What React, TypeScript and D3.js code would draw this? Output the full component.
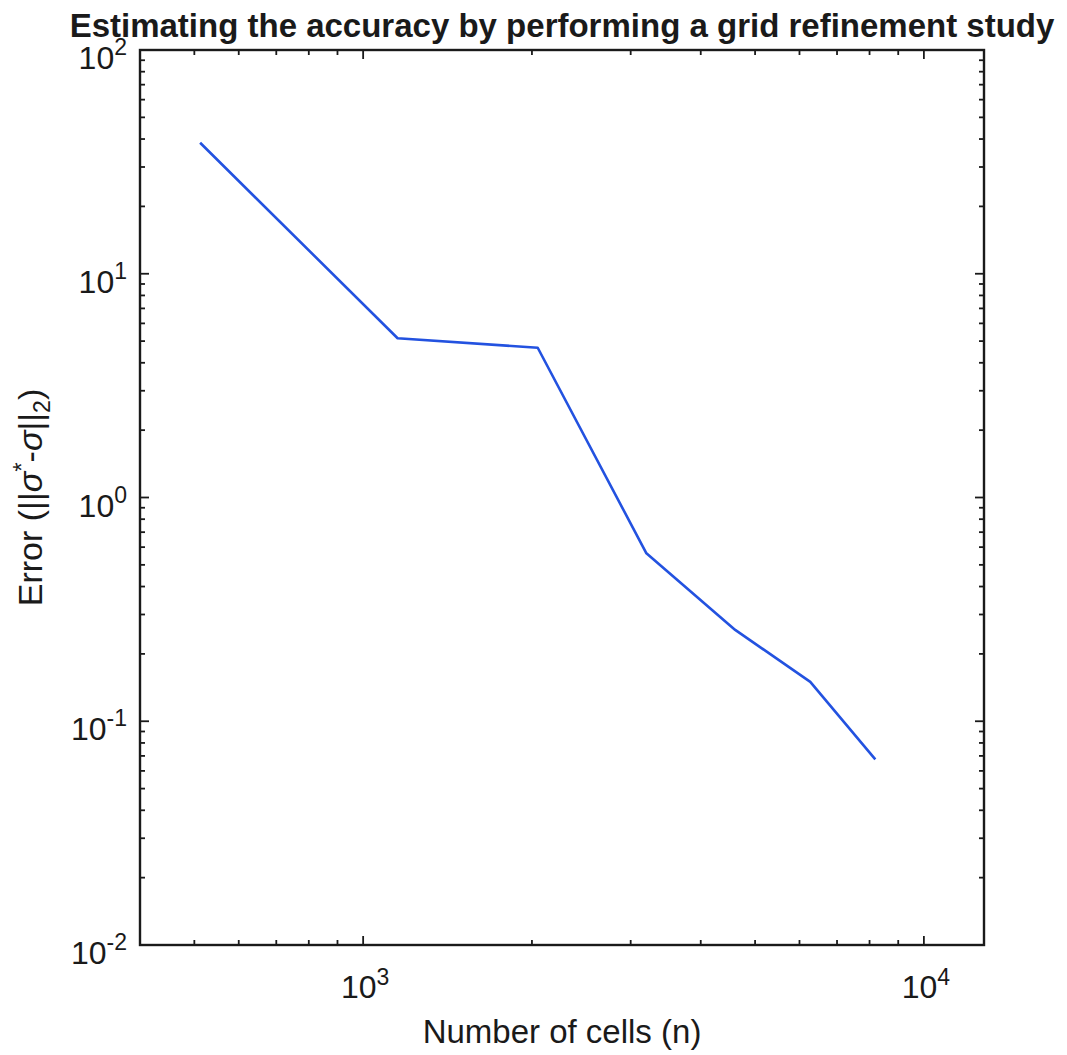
import React, { useEffect, useRef } from "react";
import * as d3 from "d3";

// Grid refinement study: number of cells vs. error norm
const cells = [512, 1152, 2048, 3200, 4608, 6272, 8192];
const errors = [38.5, 5.15, 4.67, 0.563, 0.256, 0.15, 0.0676];

const xMajorTicks = [1e3, 1e4];
const yMajorTicks = [1e-2, 1e-1, 1e0, 1e1, 1e2];
const xExponents = ["3", "4"];
const yExponents = ["-2", "-1", "0", "1", "2"];

const titleText = "Estimating the accuracy by performing a grid refinement study";
const xLabelText = "Number of cells (n)";

const W = 1067;
const H = 1055;
const plot = { left: 140, top: 50, right: 984, bottom: 945 };
const FONT = "'Liberation Sans', Arial, Helvetica, sans-serif";

export default function App() {
  const ref = useRef<SVGSVGElement | null>(null);

  useEffect(() => {
    const svg = d3.select(ref.current);
    svg.selectAll("*").remove();

    const x = d3.scaleLog().domain([400, 12800]).range([plot.left, plot.right]);
    const y = d3.scaleLog().domain([1e-2, 1e2]).range([plot.bottom, plot.top]);

    svg.append("rect").attr("width", W).attr("height", H).attr("fill", "#fff");

    // minor ticks on the log axes
    const xMinor: number[] = [];
    [100, 1000].forEach((dec) => {
      for (let m = 2; m <= 9; m++) {
        const v = m * dec;
        if (v > 400 && v < 12800 && !xMajorTicks.includes(v)) xMinor.push(v);
      }
    });
    const yMinor: number[] = [];
    [1e-2, 1e-1, 1e0, 1e1].forEach((dec) => {
      for (let m = 2; m <= 9; m++) yMinor.push(m * dec);
    });

    const g = svg.append("g").attr("stroke", "#1a1a1a").attr("stroke-width", 1.8);
    const major = 9;
    const minor = 5;

    xMinor.forEach((v) => {
      const px = x(v);
      g.append("line").attr("x1", px).attr("x2", px).attr("y1", plot.bottom).attr("y2", plot.bottom - minor);
      g.append("line").attr("x1", px).attr("x2", px).attr("y1", plot.top).attr("y2", plot.top + minor);
    });
    xMajorTicks.forEach((v) => {
      const px = x(v);
      g.append("line").attr("x1", px).attr("x2", px).attr("y1", plot.bottom).attr("y2", plot.bottom - major);
      g.append("line").attr("x1", px).attr("x2", px).attr("y1", plot.top).attr("y2", plot.top + major);
    });
    yMinor.forEach((v) => {
      const py = y(v);
      g.append("line").attr("x1", plot.left).attr("x2", plot.left + minor).attr("y1", py).attr("y2", py);
      g.append("line").attr("x1", plot.right).attr("x2", plot.right - minor).attr("y1", py).attr("y2", py);
    });
    yMajorTicks.forEach((v) => {
      const py = y(v);
      g.append("line").attr("x1", plot.left).attr("x2", plot.left + major).attr("y1", py).attr("y2", py);
      g.append("line").attr("x1", plot.right).attr("x2", plot.right - major).attr("y1", py).attr("y2", py);
    });

    // axes box
    svg
      .append("rect")
      .attr("x", plot.left)
      .attr("y", plot.top)
      .attr("width", plot.right - plot.left)
      .attr("height", plot.bottom - plot.top)
      .attr("fill", "none")
      .attr("stroke", "#1a1a1a")
      .attr("stroke-width", 2.4);

    // data line
    const line = d3
      .line<number>()
      .x((_, i) => x(cells[i]))
      .y((d) => y(d));
    svg
      .append("path")
      .attr("d", line(errors))
      .attr("fill", "none")
      .attr("stroke", "#2352e0")
      .attr("stroke-width", 2.6)
      .attr("stroke-linejoin", "round");

    // tick labels
    const txt = svg.append("g").attr("font-family", FONT).attr("fill", "#1a1a1a");
    xMajorTicks.forEach((v, i) => {
      const t = txt
        .append("text")
        .attr("x", x(v) + 2)
        .attr("y", plot.bottom + 53)
        .attr("text-anchor", "middle")
        .attr("font-size", 32);
      t.append("tspan").text("10");
      t.append("tspan").attr("dy", -13).attr("font-size", 23).text(xExponents[i]);
    });
    yMajorTicks.forEach((v, i) => {
      const t = txt
        .append("text")
        .attr("x", 127)
        .attr("y", y(v) + 19)
        .attr("text-anchor", "end")
        .attr("font-size", 32);
      t.append("tspan").text("10");
      t.append("tspan").attr("dy", -14).attr("font-size", 23).text(yExponents[i]);
    });

    // title
    txt
      .append("text")
      .attr("x", (plot.left + plot.right) / 2)
      .attr("y", 37)
      .attr("text-anchor", "middle")
      .attr("font-size", 33)
      .attr("font-weight", "bold")
      .text(titleText);

    // x axis label
    txt
      .append("text")
      .attr("x", (plot.left + plot.right) / 2)
      .attr("y", 1043)
      .attr("text-anchor", "middle")
      .attr("font-size", 33)
      .text(xLabelText);

    // y axis label
    const yl = txt
      .append("text")
      .attr("transform", `translate(42,${(plot.top + plot.bottom) / 2}) rotate(-90)`)
      .attr("text-anchor", "middle")
      .attr("font-size", 34);
    yl.append("tspan").text("Error (||");
    yl.append("tspan").attr("font-style", "italic").text("σ");
    yl.append("tspan").attr("dy", -12).attr("font-size", 24).text("*");
    yl.append("tspan").attr("dy", 12).text("-");
    yl.append("tspan").attr("font-style", "italic").text("σ");
    yl.append("tspan").text("||");
    yl.append("tspan").attr("dy", 8).attr("font-size", 23).text("2");
    yl.append("tspan").attr("dy", -8).text(")");
  }, []);

  return (
    <svg
      ref={ref}
      width={W}
      height={H}
      style={{ position: "absolute", left: 0, top: 0, display: "block" }}
    />
  );
}
